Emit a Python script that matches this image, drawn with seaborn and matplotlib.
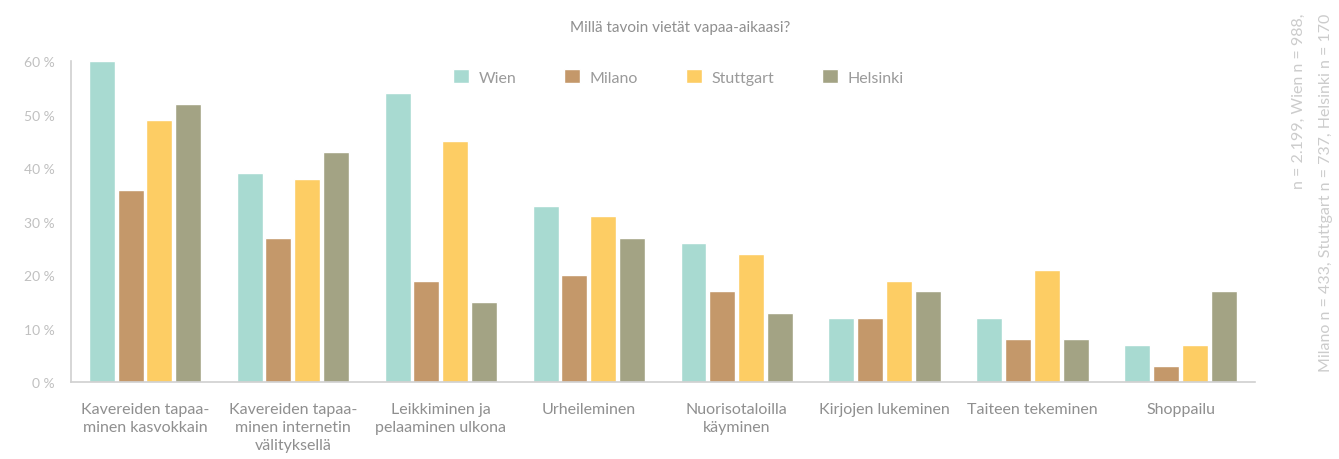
import pandas as pd
import matplotlib.pyplot as plt
import seaborn as sns

# --- Data ---
categories = [
    'Kavereiden tapaa-\nminen kasvokkain',
    'Kavereiden tapaa-\nminen internetin\nvälityksellä',
    'Leikkiminen ja\npelaaminen ulkona',
    'Urheileminen',
    'Nuorisotaloilla\nkäyminen',
    'Kirjojen lukeminen',
    'Taiteen tekeminen',
    'Shoppailu',
]
cities = ['Wien', 'Milano', 'Stuttgart', 'Helsinki']
wien = [60, 39, 54, 33, 26, 12, 12, 7]
milano = [36, 27, 19, 20, 17, 12, 8, 3]
stuttgart = [49, 38, 45, 31, 24, 19, 21, 7]
helsinki = [52, 43, 15, 27, 13, 17, 8, 17]
colors = ['#a8dad1', '#c4986a', '#fdcd64', '#a3a384']

rows = []
for city, vals in zip(cities, [wien, milano, stuttgart, helsinki]):
    for cat, v in zip(categories, vals):
        rows.append({'category': cat, 'city': city, 'value': v})
df = pd.DataFrame(rows)

# --- Plot ---
sns.set_style('white')
plt.rcParams['font.family'] = ['Lato', 'DejaVu Sans']

fig = plt.figure(figsize=(13.39, 4.6), dpi=100)
ax = fig.add_axes([0.053, 0.167, 0.884, 0.698])

sns.barplot(data=df, x='category', y='value', hue='city', order=categories,
            hue_order=cities, palette=colors, width=0.78, gap=0.1,
            saturation=1, ax=ax)

ax.set_ylim(0, 60)
ax.set_xlim(-0.5, len(categories) - 0.5)
ax.set_yticks(range(0, 61, 10))
ax.set_yticklabels([f'{t} %' for t in range(0, 61, 10)], color='#c0c0c0', fontsize=10)
ax.set_xticks(range(len(categories)))
ax.set_xticklabels(categories, color='#8f8f8f', fontsize=11.5, linespacing=1.4)
ax.tick_params(axis='x', length=0, pad=14)
ax.tick_params(axis='y', length=8, color='#d0d0d0', pad=4)
ax.set_xticks([i + 0.5 for i in range(len(categories) - 1)], minor=True)
ax.tick_params(axis='x', which='minor', direction='in', length=6, color='#d0d0d0')
ax.set_xlabel('')
ax.set_ylabel('')

for side in ['top', 'right']:
    ax.spines[side].set_visible(False)
for side in ['left', 'bottom']:
    ax.spines[side].set_color('#d0d0d0')
    ax.spines[side].set_linewidth(1.2)

leg = ax.legend(loc='upper center', bbox_to_anchor=(0.513, 1.02), ncol=4, frameon=False,
                fontsize=11.5, handlelength=1.0, handleheight=1.0, columnspacing=3.0,
                handletextpad=0.6)
for t in leg.get_texts():
    t.set_color('#9a9a9a')

fig.text(0.508, 0.94, 'Millä tavoin vietät vapaa-aikaasi?', ha='center', va='center',
         color='#8f8f8f', fontsize=11)

fig.text(0.970, 0.97, 'n = 2.199, Wien n = 988,', rotation=90, ha='center', va='top',
         color='#cccccc', fontsize=11.5)
fig.text(0.990, 0.97, 'Milano n = 433, Stuttgart n = 737, Helsinki n = 170', rotation=90,
         ha='center', va='top', color='#cccccc', fontsize=11.5)

fig.savefig('out.png', dpi=100)
